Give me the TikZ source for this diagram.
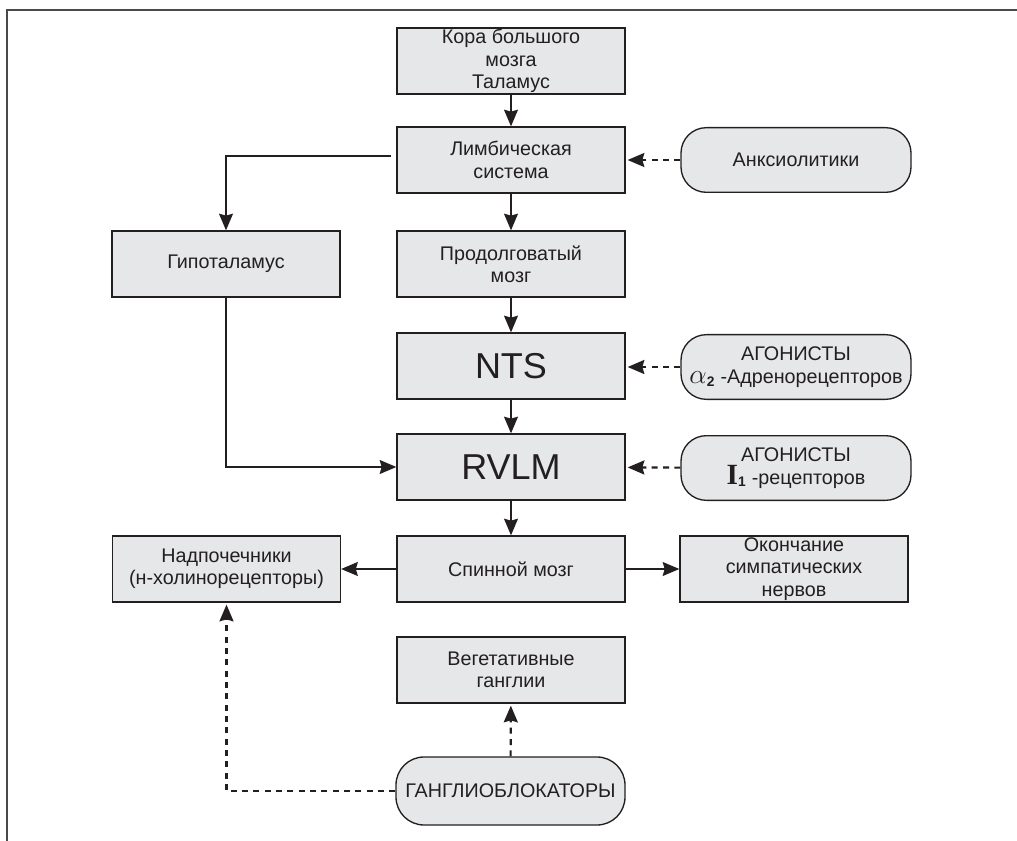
\documentclass[tikz,border=0pt]{standalone}
\usepackage{fontspec}
\setmainfont{Liberation Sans}
\newfontfamily\serifI{Liberation Serif}
\usetikzlibrary{arrows.meta}
\definecolor{boxfill}{HTML}{E6E7E8}
\definecolor{ink}{HTML}{231F20}
\definecolor{framec}{HTML}{4A4A4A}
\begin{document}
\begin{tikzpicture}[x=0.75pt,y=-0.75pt,
  txt/.style={font=\fontsize{14.8}{16.8}\selectfont, text=ink, align=center},
  box/.style={txt, draw=ink, line width=1pt, fill=boxfill, inner sep=0pt,
     minimum width=171pt, minimum height=49.5pt},
  rbox/.style={box, rounded corners=19pt, minimum width=172.5pt, minimum height=48.5pt},
  big/.style={font=\fontsize{27}{30}\selectfont},
  arr/.style={draw=ink, line width=1pt, -{Stealth[length=12.5pt,width=10.5pt,inset=1.5pt]}},
  darr/.style={draw=ink, line width=1.6pt, dash pattern=on 4.5pt off 4pt,
     -{Stealth[length=12.5pt,width=10.5pt,inset=1.5pt]}}
]
\useasboundingbox (0,0) rectangle (1017,841);
\draw[framec, line width=1.5pt] (7,841) -- (7,10) -- (1017,10);

\node[box] (kora) at (511,61) {Кора большого\\мозга\\Таламус};
\node[box] (limb) at (511,160) {Лимбическая\\система};
\node[box] (prod) at (511,264) {Продолговатый\\мозг};
\node[box, big] (nts) at (511,366) {NTS};
\node[box, big] (rvlm) at (511,467) {RVLM};
\node[box] (spin) at (511,569) {Спинной мозг};
\node[box] (veg) at (511,670) {Вегетативные\\ганглии};
\node[box] (hypo) at (226,264) {Гипоталамус};
\node[box] (nadp) at (226.5,569) {Надпочечники\\(н-холинорецепторы)};
\node[box] (okon) at (794,569) {Окончание\\симпатических\\нервов};
\node[rbox] (anx) at (796,160) {Анксиолитики};
\node[rbox] (ag2) at (796,367) {АГОНИСТЫ\\{\fontsize{22}{19}\selectfont$\alpha$}\textsubscript{\bfseries 2} -Адренорецепторов};
\node[rbox] (ag1) at (796,468) {АГОНИСТЫ\\{\serifI\bfseries\fontsize{22}{19}\selectfont I}\textsubscript{\bfseries 1} -рецепторов};
\node[rbox, minimum width=171.75pt, minimum height=51pt, rounded corners=21pt] (gang) at (510.5,791) {ГАНГЛИОБЛОКАТОРЫ};

\draw[arr] (kora) -- (limb);
\draw[arr] (limb) -- (prod);
\draw[arr] (prod) -- (nts);
\draw[arr] (nts) -- (rvlm);
\draw[arr] (rvlm) -- (spin);
\draw[arr, shorten <=4pt] ([yshift=3pt]limb.west) -| (hypo.north);
\draw[arr] (hypo.south) |- (rvlm.west);
\draw[arr] (spin) -- (nadp);
\draw[arr] (spin) -- (okon);
\draw[darr, shorten >=1.5pt] (anx) -- (limb);
\draw[darr, shorten >=1.5pt] (ag2.west) -- (nts.east |- ag2.west);
\draw[darr, shorten >=1.5pt] (ag1) -- (rvlm);
\draw[darr, shorten >=1.5pt] (gang) -- (veg);
\draw[darr, shorten >=1.5pt] (gang.west) -| (nadp.south);
\end{tikzpicture}
\end{document}
